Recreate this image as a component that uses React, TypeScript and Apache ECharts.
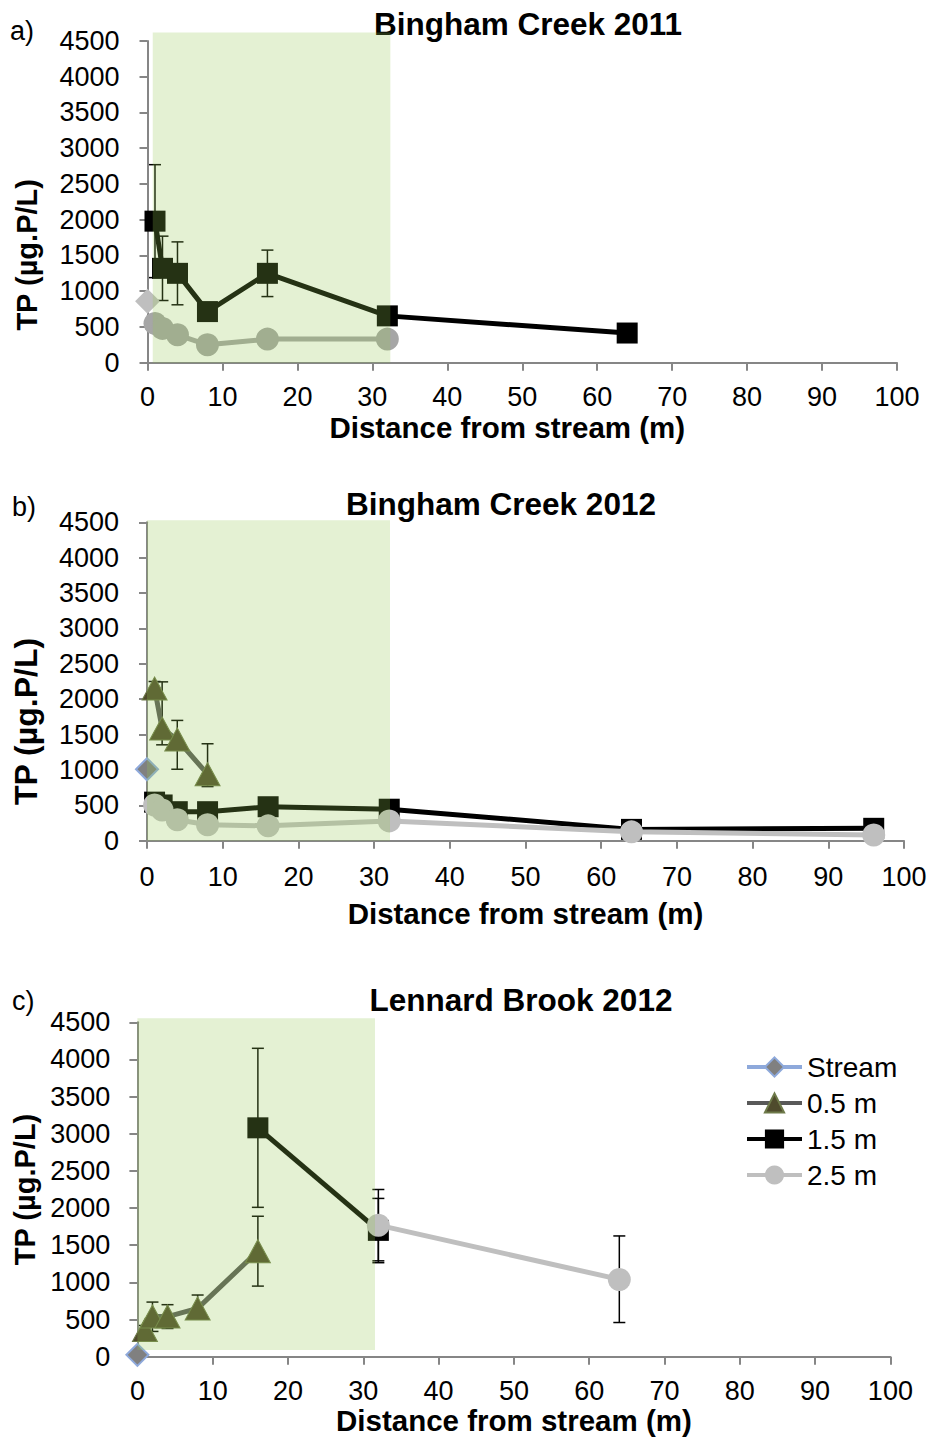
import { useEffect, useRef } from "react";
import * as echarts from "echarts";

type Pt = [number, number];
type Err = [number, number, number]; // [x, low, high]

const FONT = "'Liberation Sans', Arial, Helvetica, sans-serif";

const panelTitles = ["Bingham Creek 2011", "Bingham Creek 2012", "Lennard Brook 2012"];
const panelLetters = ["a)", "b)", "c)"];
const seriesNames = ["Stream", "0.5 m", "1.5 m", "2.5 m"];
const xAxisTitle = "Distance from stream (m)";
const yAxisTitle = "TP (µg.P/L)";
const yMin = 0;
const yMax = 4500;
const yStep = 500;
const xMin = 0;
const xMax = 100;
const xStep = 10;

// a) Bingham Creek 2011
const bc11Stream: Pt[] = [[0, 860]];
const bc11M15: Pt[] = [[1, 1980], [2, 1320], [4, 1250], [8, 715], [16, 1250], [32, 655], [64, 415]];
const bc11M15Err: Err[] = [[1, 1190, 2770], [2, 870, 1770], [4, 810, 1690], [16, 925, 1575]];
const bc11M25: Pt[] = [[1, 550], [2, 480], [4, 390], [8, 250], [16, 330], [32, 330]];
const bc11Zone = [0.7, 32.4, 0, 4620]; // [x0, x1, y0, y1]

// b) Bingham Creek 2012
const bc12Stream: Pt[] = [[0, 1010]];
const bc12M05: Pt[] = [[1, 2150], [2, 1585], [4, 1430], [8, 940]];
const bc12M05Err: Err[] = [[1, 2050, 2250], [2, 1355, 2245], [4, 1010, 1700], [8, 765, 1370]];
const bc12M15: Pt[] = [[1, 545], [2, 505], [4, 410], [8, 410], [16, 480], [32, 445], [64, 160], [96, 175]];
const bc12M25: Pt[] = [[1, 505], [2, 435], [4, 295], [8, 225], [16, 210], [32, 280], [64, 125], [96, 80]];
const bc12Zone = [0, 32.1, 0, 4530];

// c) Lennard Brook 2012
const lb12Stream: Pt[] = [[0, 25]];
const lb12M05: Pt[] = [[1, 360], [2, 540], [4, 540], [8, 650], [16, 1420]];
const lb12M05Err: Err[] = [[1, 300, 420], [2, 340, 735], [4, 380, 700], [8, 520, 830], [16, 950, 1890]];
const lb12M15: Pt[] = [[16, 3080], [32, 1700]];
const lb12M15Err: Err[] = [[16, 2010, 4150], [32, 1265, 2130]];
const lb12M25: Pt[] = [[32, 1770], [64, 1040]];
const lb12M25Err: Err[] = [[32, 1290, 2250], [64, 460, 1625]];
const lb12Zone = [0, 31.55, 90, 4555];

const ZONE_FILL = "rgba(146,200,80,0.25)";
const AXIS_GREY = "#868686";

// page layout of the three panels
const grids = [
  { left: 147.5, top: 41, width: 749.5, height: 321.7 },
  { left: 147, top: 522.3, width: 757, height: 318.4 },
  { left: 137.4, top: 1022.3, width: 753, height: 334.4 },
];
const panelStyle = [
  { yLabelMargin: 28, xLabelMargin: 21, xNameGap: 50, xNamePad: [0, 30, 0, 0], yNameGap: 106, yNameSize: 29, yNamePad: [0, 106, 0, 0] },
  { yLabelMargin: 28, xLabelMargin: 23, xNameGap: 58, xNamePad: [0, 0, 0, 0], yNameGap: 105, yNameSize: 32, yNamePad: [0, 80, 0, 0] },
  { yLabelMargin: 27, xLabelMargin: 21, xNameGap: 48, xNamePad: [0, 0, 0, 0], yNameGap: 98, yNameSize: 29, yNamePad: [0, 0, 0, 0] },
];
const titlePos = [
  { x: 528, y: 24 },
  { x: 501, y: 504 },
  { x: 521, y: 1000 },
];
const letterPos = [
  { x: 10, y: 31 },
  { x: 12, y: 507 },
  { x: 12, y: 1001 },
];

const streamStyle = (fill: string, border: string) => ({
  symbol: "diamond",
  symbolSize: 22,
  itemStyle: { color: fill, borderColor: border, borderWidth: 2 },
  lineStyle: { color: "#8EA9DB", width: 4 },
});
const m05Style = {
  symbol: "triangle",
  symbolSize: [25, 23],
  itemStyle: { color: "#4F4B2C", borderColor: "#6E7A4A", borderWidth: 1 },
  lineStyle: { color: "#595959", width: 5 },
};
const m15Style = {
  symbol: "rect",
  symbolSize: 21,
  itemStyle: { color: "#000000" },
  lineStyle: { color: "#000000", width: 5 },
};
const m25Style = (c: string) => ({
  symbol: "circle",
  symbolSize: 23,
  itemStyle: { color: c },
  lineStyle: { color: c, width: 5 },
});

function lineSeries(i: number, name: string, data: Pt[], style: any) {
  return {
    type: "line",
    name,
    xAxisIndex: i,
    yAxisIndex: i,
    data,
    z: 3,
    showSymbol: true,
    showAllSymbol: true,
    silent: true,
    ...style,
  };
}

function errorSeries(i: number, data: Err[]) {
  return {
    type: "custom",
    xAxisIndex: i,
    yAxisIndex: i,
    z: 2,
    silent: true,
    data,
    encode: { x: 0, y: [1, 2] },
    renderItem: (_p: any, api: any) => {
      const x = api.value(0);
      const lo = api.coord([x, api.value(1)]);
      const hi = api.coord([x, api.value(2)]);
      const hw = 6;
      const st = { stroke: "#000000", lineWidth: 1.5 };
      return {
        type: "group",
        children: [
          { type: "line", shape: { x1: lo[0], y1: lo[1], x2: hi[0], y2: hi[1] }, style: st },
          { type: "line", shape: { x1: hi[0] - hw, y1: hi[1], x2: hi[0] + hw, y2: hi[1] }, style: st },
          { type: "line", shape: { x1: lo[0] - hw, y1: lo[1], x2: lo[0] + hw, y2: lo[1] }, style: st },
        ],
      };
    },
  };
}

// translucent green band marking the buffer zone, laid over the data
function zoneSeries(i: number, zone: number[]) {
  return {
    type: "custom",
    xAxisIndex: i,
    yAxisIndex: i,
    z: 10,
    silent: true,
    clip: false,
    data: [zone],
    encode: { x: [0, 1], y: [2, 3] },
    renderItem: (_p: any, api: any) => {
      const p0 = api.coord([api.value(0), api.value(3)]);
      const p1 = api.coord([api.value(1), api.value(2)]);
      return {
        type: "rect",
        shape: { x: p0[0], y: p0[1], width: p1[0] - p0[0], height: p1[1] - p0[1] },
        style: { fill: ZONE_FILL },
      };
    },
  };
}

const plainNumber = (v: number) => String(v);

function buildOption() {
  const xAxes = grids.map((_, i) => ({
    type: "value",
    gridIndex: i,
    min: xMin,
    max: xMax,
    interval: xStep,
    name: xAxisTitle,
    nameLocation: "middle",
    nameGap: panelStyle[i].xNameGap,
    nameTextStyle: {
      fontFamily: FONT,
      fontSize: 29.5,
      fontWeight: "bold",
      color: "#000",
      padding: panelStyle[i].xNamePad,
    },
    axisLine: { show: true, lineStyle: { color: AXIS_GREY, width: 2 } },
    axisTick: { show: true, inside: false, length: 8, lineStyle: { color: AXIS_GREY, width: 2 } },
    axisLabel: { fontFamily: FONT, fontSize: 27, color: "#000", margin: panelStyle[i].xLabelMargin, formatter: plainNumber },
    splitLine: { show: false },
  }));
  const yAxes = grids.map((_, i) => ({
    type: "value",
    gridIndex: i,
    min: yMin,
    max: yMax,
    interval: yStep,
    name: yAxisTitle,
    nameLocation: "middle",
    nameGap: panelStyle[i].yNameGap,
    nameTextStyle: {
      fontFamily: FONT,
      fontSize: panelStyle[i].yNameSize,
      fontWeight: "bold",
      color: "#000",
      padding: panelStyle[i].yNamePad,
    },
    axisLine: { show: true, lineStyle: { color: AXIS_GREY, width: 2 } },
    axisTick: { show: true, inside: false, length: 8, lineStyle: { color: AXIS_GREY, width: 2 } },
    axisLabel: { fontFamily: FONT, fontSize: 27, color: "#000", margin: panelStyle[i].yLabelMargin, formatter: plainNumber },
    splitLine: { show: false },
  }));

  const series: any[] = [
    // c) first, so the legend takes its symbols from this panel
    lineSeries(2, seriesNames[0], lb12Stream, streamStyle("#808080", "#8EA9DB")),
    errorSeries(2, lb12M05Err),
    lineSeries(2, seriesNames[1], lb12M05, m05Style),
    errorSeries(2, lb12M15Err),
    lineSeries(2, seriesNames[2], lb12M15, m15Style),
    errorSeries(2, lb12M25Err),
    lineSeries(2, seriesNames[3], lb12M25, m25Style("#BFBFBF")),
    zoneSeries(2, lb12Zone),

    // a)
    lineSeries(0, seriesNames[0], bc11Stream, streamStyle("#BFBFBF", "#BFBFBF")),
    errorSeries(0, bc11M15Err),
    lineSeries(0, seriesNames[2], bc11M15, m15Style),
    lineSeries(0, seriesNames[3], bc11M25, m25Style("#A6A6A6")),
    zoneSeries(0, bc11Zone),

    // b)
    lineSeries(1, seriesNames[0], bc12Stream, streamStyle("#808080", "#8EA9DB")),
    errorSeries(1, bc12M05Err),
    lineSeries(1, seriesNames[1], bc12M05, m05Style),
    lineSeries(1, seriesNames[2], bc12M15, m15Style),
    lineSeries(1, seriesNames[3], bc12M25, m25Style("#BFBFBF")),
    zoneSeries(1, bc12Zone),
  ];

  const texts: any[] = [];
  panelTitles.forEach((t, i) => {
    texts.push({
      type: "text",
      x: titlePos[i].x,
      y: titlePos[i].y,
      style: {
        text: t,
        fontFamily: FONT,
        fontSize: 31.5,
        fontWeight: "bold",
        fill: "#000",
        align: "center",
        verticalAlign: "middle",
      },
    });
    texts.push({
      type: "text",
      x: letterPos[i].x,
      y: letterPos[i].y,
      style: {
        text: panelLetters[i],
        fontFamily: FONT,
        fontSize: 27,
        fill: "#000",
        align: "left",
        verticalAlign: "middle",
      },
    });
  });

  return {
    animation: false,
    backgroundColor: "#ffffff",
    grid: grids.map((g) => ({ ...g, containLabel: false })),
    xAxis: xAxes,
    yAxis: yAxes,
    legend: {
      show: true,
      data: seriesNames,
      orient: "vertical",
      left: 745,
      top: 1052,
      padding: 0,
      itemWidth: 55,
      itemHeight: 24,
      itemGap: 6,
      selectedMode: false,
      lineStyle: { width: 4 },
      textStyle: { fontFamily: FONT, fontSize: 28, color: "#000", lineHeight: 30 },
    },
    graphic: texts,
    series,
  };
}

export default function App() {
  const ref = useRef<HTMLDivElement>(null);
  useEffect(() => {
    if (!ref.current) return;
    const chart = echarts.init(ref.current, undefined, { renderer: "svg" });
    chart.setOption(buildOption() as any);
    return () => chart.dispose();
  }, []);
  return (
    <div
      ref={ref}
      style={{ position: "absolute", left: 0, top: 0, width: 931, height: 1437, background: "#fff" }}
    />
  );
}
